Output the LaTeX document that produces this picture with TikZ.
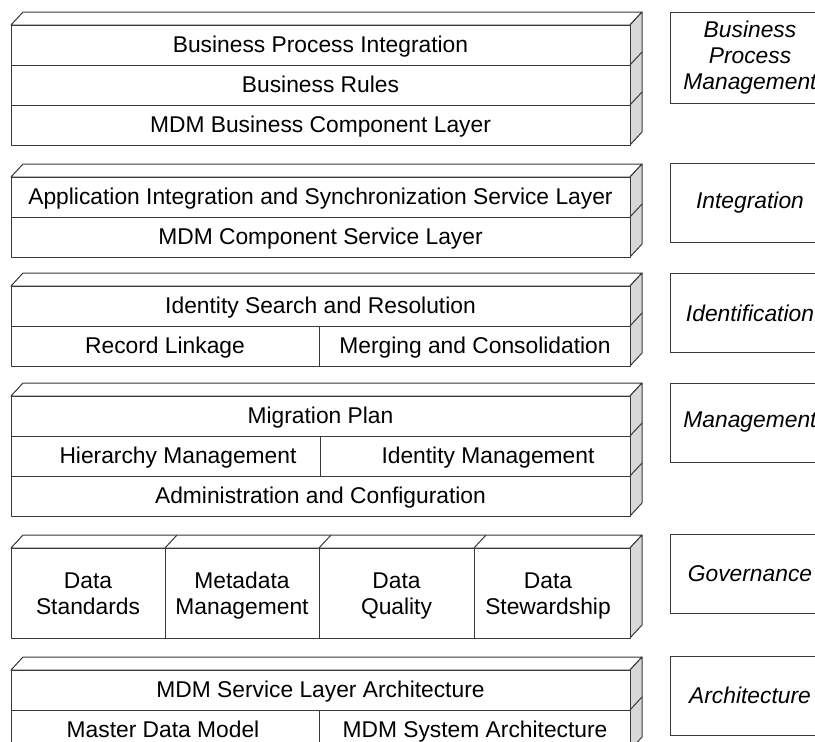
\documentclass[tikz,border=0pt]{standalone}
\usepackage{fontspec}
\setmainfont{Liberation Sans}
\definecolor{linec}{HTML}{3A3A3A}
\definecolor{sidec}{HTML}{D8D8D8}
\tikzset{
  face/.style={draw=linec, line width=1pt, line join=round},
  txt/.style={inner sep=0pt, font=\fontsize{22.8}{26.5}\selectfont, align=center, text=black, text height=16.3pt, text depth=0pt},
  txtb/.style={inner sep=0pt, font=\fontsize{22.8}{26.5}\selectfont, align=center, text=black},
  lbl/.style={draw=linec, line width=1pt, inner sep=0pt, font=\fontsize{22.8}{26}\selectfont\itshape, align=center, minimum width=160pt, minimum height=79pt},
}
% top face + side face of a block: #1 front top y, #2 front bottom y
\newcommand\blockshell[2]{%
  \draw[face, fill=white] (11,#1) -- (23,#1-13) -- (642,#1-13) -- (630,#1) -- cycle;
  \draw[face, fill=sidec] (630,#1) -- (642,#1-13) -- (642,#2-13) -- (630,#2) -- cycle;
  \draw[face, fill=white] (11,#1) rectangle (630,#2);
}
\newcommand\rowline[1]{%
  \draw[face] (11,#1) -- (630,#1);
  \draw[face] (630,#1) -- (642,#1-13);
}
\begin{document}
\begin{tikzpicture}[x=1pt,y=-1pt]
\clip (0,0) rectangle (815,742);
\fill[white] (0,0) rectangle (815,742);

% Block 1
\blockshell{25}{145}
\rowline{65}
\rowline{105}
\node[txt] (bpi) at (320.5,44.5) {Business Process Integration};
\node[txt] (br) at (320.5,84.5) {Business Rules};
\node[txt] (mbcl) at (320.5,124.5) {MDM Business Component Layer};

% Block 2
\blockshell{177}{257}
\rowline{217}
\node[txt] (aiss) at (320.5,196.5) {Application Integration and Synchronization Service Layer};
\node[txt] (mcsl) at (320.5,236.5) {MDM Component Service Layer};

% Block 3
\blockshell{286}{366}
\rowline{326}
\draw[face] (319,326) -- (319,366);
\node[txt] (isr) at (320.5,305.5) {Identity Search and Resolution};
\node[txt] (rl) at (165,345.5) {Record Linkage};
\node[txt] (mc) at (475,345.5) {Merging and Consolidation};

% Block 4
\blockshell{396}{516}
\rowline{436}
\rowline{476}
\draw[face] (320,436) -- (320,476);
\node[txt] (mp) at (320.5,415.5) {Migration Plan};
\node[txt] (hm) at (178,455.5) {Hierarchy Management};
\node[txt] (im) at (488,455.5) {Identity Management};
\node[txt] (ac) at (320.5,495.5) {Administration and Configuration};

% Block 5
\blockshell{548}{638}
\foreach \xx in {165,319,474} {
  \draw[face] (\xx,548) -- (\xx,638);
  \draw[face] (\xx,548) -- (\xx+12,535);
}
\node[txtb] (ds) at (88,596) {Data\strut\\Standards\strut};
\node[txtb] (mm) at (242,596) {Metadata\strut\\Management\strut};
\node[txtb] (dq) at (396.5,596) {Data\strut\\Quality\strut};
\node[txtb] (dst) at (548,596) {Data\strut\\Stewardship\strut};

% Block 6
\blockshell{670}{750}
\rowline{710}
\draw[face] (319,710) -- (319,750);
\node[txt] (msla) at (320.5,689.5) {MDM Service Layer Architecture};
\node[txt] (mdm) at (163,729.5) {Master Data Model};
\node[txt] (msa) at (475,729.5) {MDM System Architecture};

% Side labels
\node[lbl, minimum height=91pt] (l1) at (750,58) {Business\\Process\\Management};
\node[lbl] (l2) at (750,202.5) {Integration};
\node[lbl] (l3) at (750,313) {Identification};
\node[lbl] (l4) at (750,422.5) {Management};
\node[lbl] (l5) at (750,573.5) {Governance};
\node[lbl] (l6) at (750,695.5) {Architecture};
\end{tikzpicture}
\end{document}
